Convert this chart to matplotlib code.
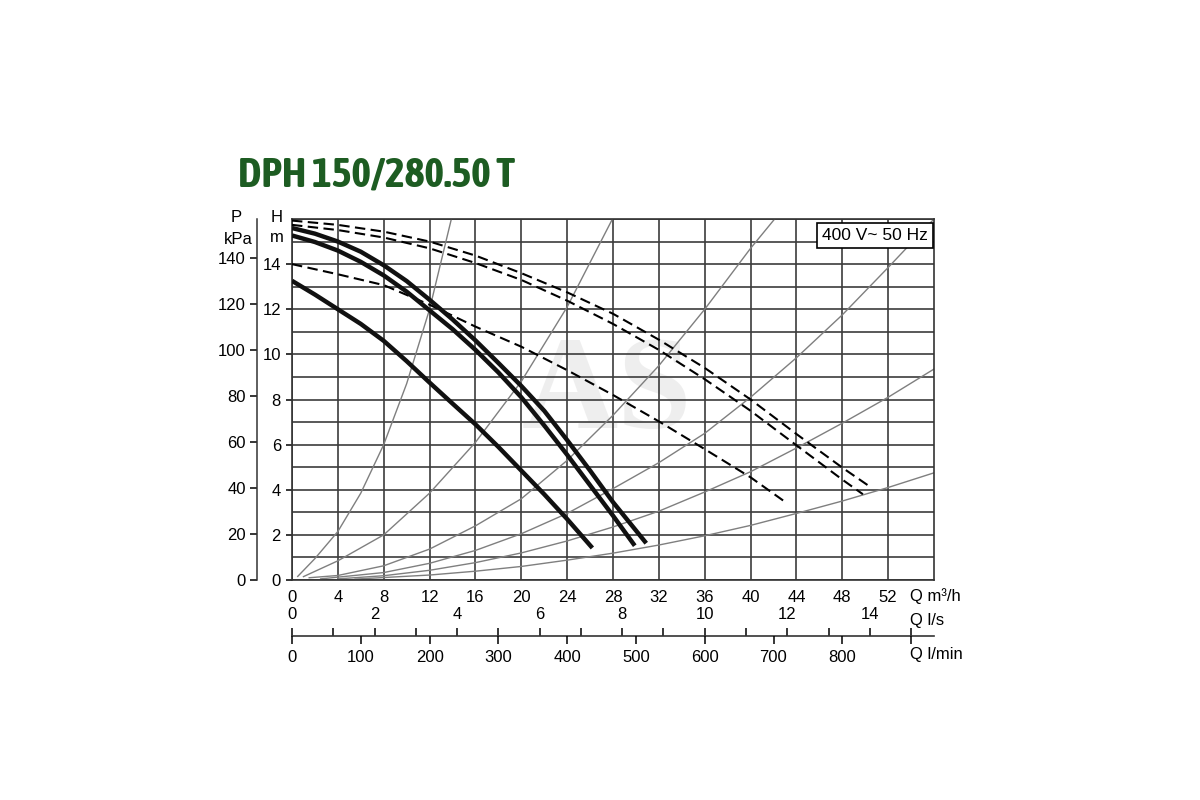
import matplotlib
matplotlib.use("Agg")
import matplotlib.pyplot as plt
from matplotlib import font_manager
from matplotlib.ticker import MultipleLocator

# ---- Fonts ----
plt.rcParams['font.family'] = ['Liberation Sans', 'DejaVu Sans']

# pick a condensed bold sans face for the title
paths = [f.fname for f in font_manager.fontManager.ttflist]
title_path = None
for key in ['asapcondensed-bold.', 'notosans-extracondensedbold', 'notosans-condensedbold',
            'condensedbold', 'condensed-bold']:
    hits = [p for p in paths if key in p.lower().split('/')[-1]
            and not any(b in p.lower() for b in ('italic', 'oblique', 'serif', 'mono'))]
    if hits:
        title_path = sorted(hits)[0]
        break
if title_path:
    title_prop = font_manager.FontProperties(fname=title_path, size=30)
else:
    title_prop = font_manager.FontProperties(family='DejaVu Sans', weight='bold', size=23)

KPA_PER_M = 9.81
LS_PER_M3H = 1 / 3.6
LMIN_PER_M3H = 1000 / 60

# ---- Pump curves (Q m3/h, H m) ----
q_a = [0, 2, 4, 6, 8, 10, 12, 14, 16, 18, 20, 22, 24, 26, 28, 30.9]
h_a = [15.6, 15.35, 15.0, 14.55, 13.95, 13.25, 12.42, 11.55, 10.62, 9.62, 8.6, 7.5, 6.2, 4.85, 3.45, 1.63]
q_b = [0, 2, 4, 6, 8, 10, 12, 14, 16, 18, 20, 22, 24, 26, 28, 29.9]
h_b = [15.27, 14.98, 14.6, 14.1, 13.5, 12.78, 11.95, 11.12, 10.2, 9.2, 8.1, 6.85, 5.55, 4.2, 2.85, 1.52]
q_c = [0, 2, 4, 6, 8, 10, 12, 14, 16, 18, 20, 22, 24, 26.2]
h_c = [13.26, 12.65, 12.0, 11.35, 10.6, 9.7, 8.75, 7.82, 6.9, 5.9, 4.85, 3.8, 2.7, 1.42]

q_d1 = [0, 4, 8, 12, 16, 20, 24, 28, 32, 36, 40, 44, 48, 50.4]
h_d1 = [15.93, 15.74, 15.44, 15.0, 14.38, 13.6, 12.75, 11.8, 10.65, 9.4, 8.0, 6.47, 4.98, 4.14]
q_d2 = [0, 4, 8, 12, 16, 20, 24, 28, 32, 36, 40, 44, 48, 49.8]
h_d2 = [15.74, 15.51, 15.18, 14.7, 14.05, 13.3, 12.38, 11.35, 10.2, 8.9, 7.5, 5.97, 4.45, 3.8]
q_d3 = [0, 4, 8, 12, 16, 20, 24, 28, 32, 36, 40, 43.1]
h_d3 = [14.0, 13.55, 13.07, 12.2, 11.23, 10.34, 9.3, 8.2, 7.03, 5.8, 4.55, 3.43]

# ---- System curves (thin grey) ----
q_s1 = [0.5, 2, 4, 6, 8, 10, 12, 13.9]
h_s1 = [0.16, 0.95, 2.15, 3.85, 6.0, 8.7, 12.0, 16.0]
q_s2 = [1.0, 4, 8, 12, 16, 20, 24, 27.95]
h_s2 = [0.15, 0.85, 2.0, 3.85, 6.1, 8.8, 12.1, 16.0]
q_s3 = [1.5, 4, 8, 12, 16, 20, 24, 28, 32, 36, 40, 42.1]
h_s3 = [0.1, 0.2, 0.63, 1.37, 2.4, 3.6, 5.3, 7.3, 9.5, 12.0, 14.7, 16.0]
q_s4 = [2.5, 8, 12, 16, 20, 24, 28, 32, 36, 40, 44, 48, 52, 56]
h_s4 = [0.05, 0.33, 0.74, 1.31, 2.05, 2.95, 4.05, 5.2, 6.5, 8.1, 9.85, 11.75, 13.85, 16.0]
q_s5 = [4, 8, 12, 16, 20, 24, 28, 32, 36, 40, 44, 48, 52, 56]
h_s5 = [0.05, 0.19, 0.43, 0.77, 1.2, 1.73, 2.35, 3.05, 3.9, 4.8, 5.85, 6.95, 8.1, 9.35]
q_s6 = [5.5, 12, 16, 20, 24, 28, 32, 36, 40, 44, 48, 52, 56]
h_s6 = [0.04, 0.22, 0.39, 0.6, 0.88, 1.19, 1.55, 1.96, 2.42, 2.95, 3.5, 4.1, 4.75]

q_ticks = list(range(0, 53, 4))
h_ticks = list(range(0, 15, 2))
kpa_ticks = list(range(0, 141, 20))
ls_ticks = list(range(0, 16))
lmin_ticks = list(range(0, 901, 100))

Q_MAX, H_MAX = 56, 16
W, H = 1200, 800

fig = plt.figure(figsize=(12, 8), dpi=100)
fig.patch.set_facecolor('white')

ax = fig.add_axes([292 / W, 1 - 580 / H, (934 - 292) / W, (580 - 219) / H])
ax.set_xlim(0, Q_MAX)
ax.set_ylim(0, H_MAX)
ax.set_xticks(q_ticks)
ax.set_yticks(h_ticks)
ax.yaxis.set_minor_locator(MultipleLocator(1))
ax.grid(axis='x', which='major', color='#3c3c3c', lw=1.2, zorder=0)
ax.grid(axis='y', which='both', color='#3c3c3c', lw=1.2, zorder=0)
ax.tick_params(axis='x', length=0, pad=7, labelsize=12)
ax.tick_params(axis='y', which='major', length=4, width=1.1, direction='out', pad=4, labelsize=12)
ax.tick_params(axis='y', which='minor', length=0)
for s in ax.spines.values():
    s.set_color('#333333')
    s.set_linewidth(1.2)

# watermark
ax.text(0.49, 0.51, 'AS', transform=ax.transAxes, fontsize=96, family=['Liberation Serif', 'DejaVu Serif'],
        fontweight='bold', color='#e4e4e4', alpha=0.6, ha='center', va='center', zorder=0.5)

grey = '#7f7f7f'
for qs, hs in [(q_s1, h_s1), (q_s2, h_s2), (q_s3, h_s3), (q_s4, h_s4), (q_s5, h_s5), (q_s6, h_s6)]:
    ax.plot(qs, hs, color=grey, lw=1.0, zorder=2)

for qs, hs in [(q_d1, h_d1), (q_d2, h_d2), (q_d3, h_d3)]:
    ax.plot(qs, hs, color='black', lw=1.5, dashes=(5, 2.6), zorder=3)

for qs, hs in [(q_a, h_a), (q_b, h_b), (q_c, h_c)]:
    ax.plot(qs, hs, color='#111111', lw=3.2, solid_capstyle='butt', solid_joinstyle='round', zorder=4)

ax.text(0.991, 0.975, '400 V~ 50 Hz', transform=ax.transAxes, ha='right', va='top', fontsize=12.5,
        bbox=dict(boxstyle='square,pad=0.3', fc='white', ec='black', lw=1.2), zorder=6)

# ---- kPa axis ----
axp = fig.add_axes([257 / W, 1 - 580 / H, 0.0001, (580 - 219) / H])
axp.set_ylim(0, H_MAX * KPA_PER_M)
axp.set_yticks(kpa_ticks)
axp.set_xticks([])
axp.patch.set_visible(False)
for k in ['top', 'right', 'bottom']:
    axp.spines[k].set_visible(False)
axp.spines['left'].set_color('#333333')
axp.spines['left'].set_linewidth(1.1)
axp.tick_params(axis='y', length=5, width=1.1, direction='out', pad=3, labelsize=12)

# ---- l/s and l/min scales ----
axq = fig.add_axes([292 / W, 1 - 636 / H, (934 - 292) / W, 0.0001])
axq.set_xlim(0, Q_MAX * LS_PER_M3H)
axq.set_xticks(ls_ticks, labels=[str(v) if v % 2 == 0 and v <= 14 else '' for v in ls_ticks])
axq.xaxis.set_ticks_position('top')
axq.tick_params(axis='x', top=True, bottom=False, labeltop=True, labelbottom=False,
                length=6, width=1.1, direction='out', pad=4, labelsize=12)
axq.set_yticks([])
axq.patch.set_visible(False)
for k in ['top', 'left', 'right']:
    axq.spines[k].set_visible(False)
axq.spines['bottom'].set_color('#333333')
axq.spines['bottom'].set_linewidth(1.2)

axm = fig.add_axes([292 / W, 1 - 636 / H, (934 - 292) / W, 0.0001])
axm.set_xlim(0, Q_MAX * LMIN_PER_M3H)
axm.set_xticks(lmin_ticks, labels=[str(v) if v <= 800 else '' for v in lmin_ticks])
axm.tick_params(axis='x', top=False, bottom=True, length=6, width=1.1, direction='out', pad=4, labelsize=12)
axm.set_yticks([])
axm.patch.set_visible(False)
for s in axm.spines.values():
    s.set_visible(False)

# ---- labels ----
title = fig.text(238 / W, 1 - 175 / H, 'DPH 150/280.50 T', fontproperties=title_prop,
                 color='#1d5c22', ha='left', va='center')
# fit the title to the width it has in the original (about 277 px)
renderer = fig.canvas.get_renderer()
tw = title.get_window_extent(renderer).width
title_prop.set_size(title_prop.get_size() * 277 / tw)
title.set_fontproperties(title_prop)

fig.text(277 / W, 1 - 217 / H, 'H', fontsize=12, ha='center', va='center')
fig.text(277 / W, 1 - 238 / H, 'm', fontsize=12, ha='center', va='center')
fig.text(236 / W, 1 - 217 / H, 'P', fontsize=12, ha='center', va='center')
fig.text(238 / W, 1 - 240 / H, 'kPa', fontsize=12, ha='center', va='center')
fig.text(910 / W, 1 - 596 / H, 'Q m³/h', fontsize=12, ha='left', va='center')
fig.text(910 / W, 1 - 620 / H, 'Q l/s', fontsize=12, ha='left', va='center')
fig.text(910 / W, 1 - 655 / H, 'Q l/min', fontsize=12, ha='left', va='center')

fig.savefig('out.png', dpi=100, facecolor='white')
